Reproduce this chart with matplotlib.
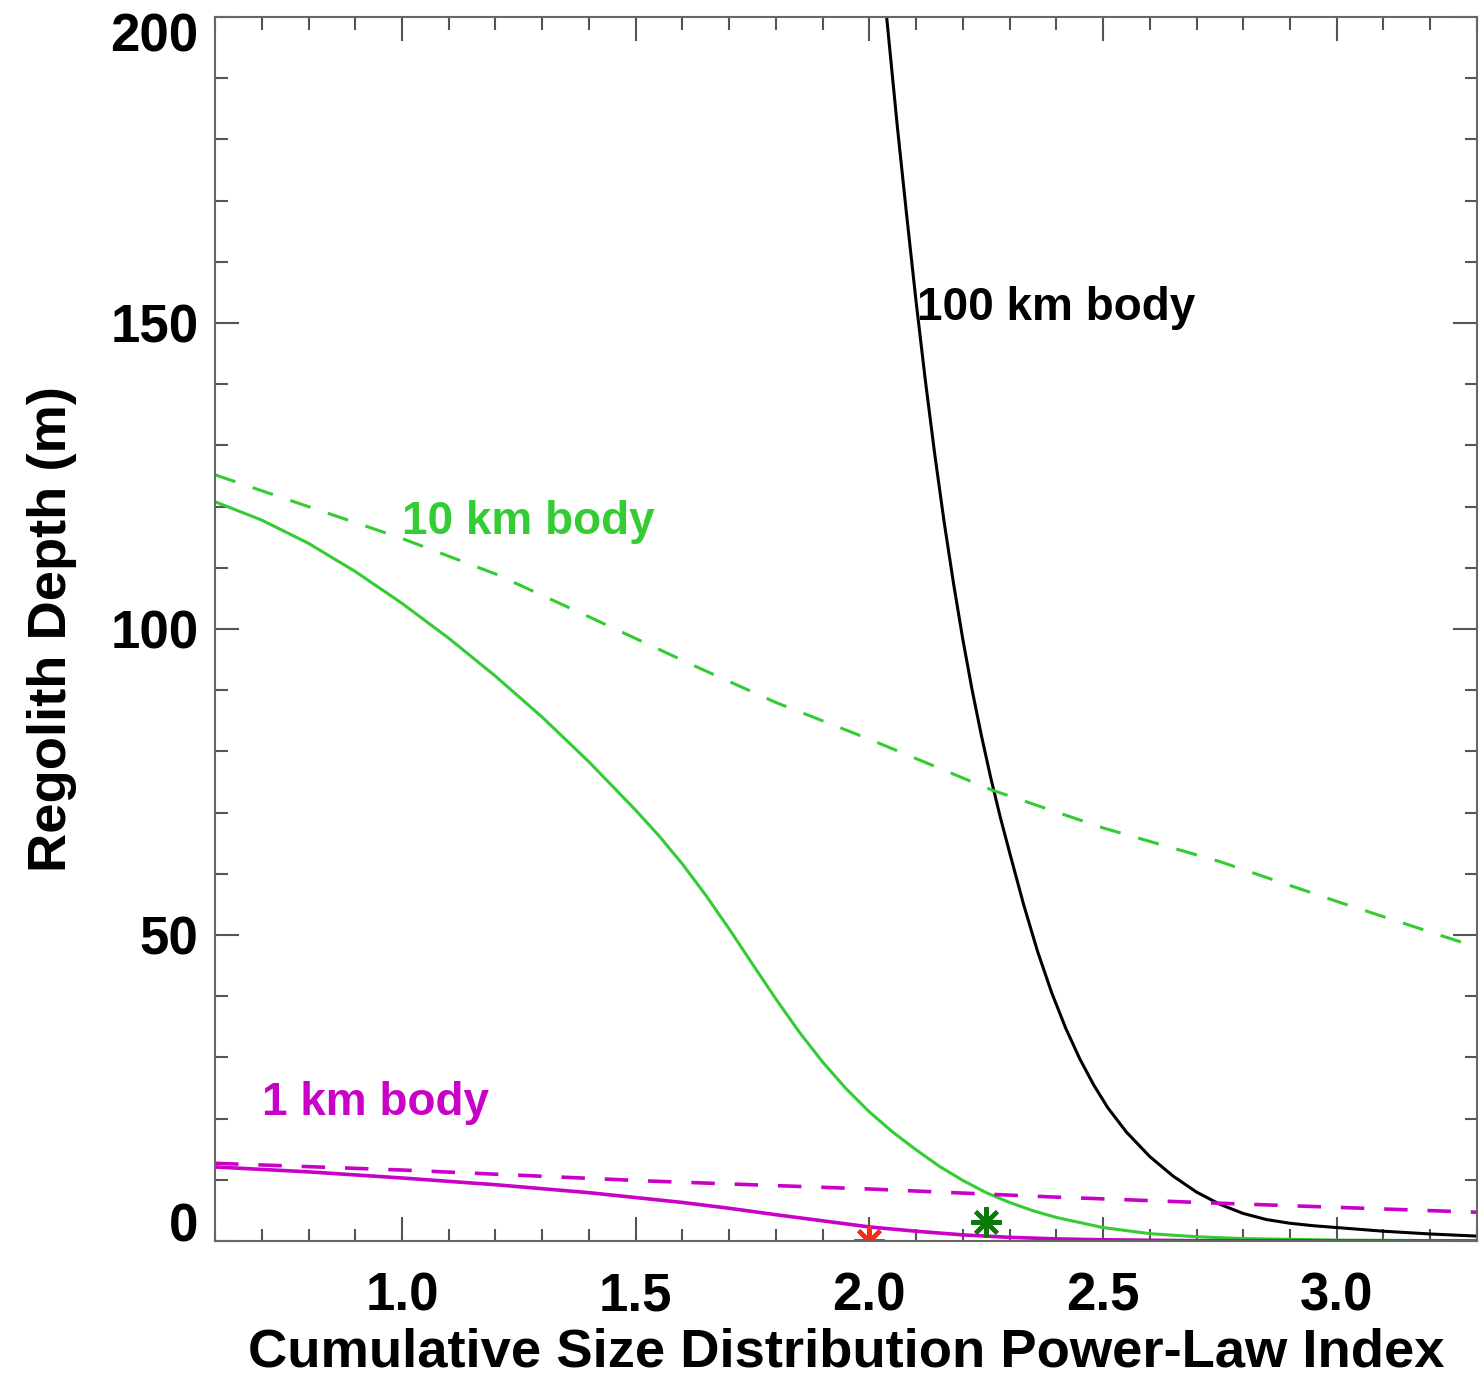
import matplotlib
matplotlib.use("Agg")
import matplotlib.pyplot as plt
from matplotlib.ticker import MultipleLocator
from matplotlib.transforms import ScaledTranslation

plt.rcParams['font.family'] = ['Liberation Sans', 'DejaVu Sans']
plt.rcParams['font.weight'] = 'bold'

# 100 km body (solid black)
x_100km = [2.037, 2.06, 2.08, 2.10, 2.12, 2.14, 2.16, 2.18, 2.20, 2.22, 2.24, 2.26,
           2.28, 2.30, 2.33, 2.36, 2.39, 2.42, 2.45, 2.48, 2.51, 2.55, 2.60, 2.65,
           2.70, 2.75, 2.80, 2.85, 2.90, 2.95, 3.0, 3.1, 3.2, 3.3]
y_100km = [200, 182, 167.5, 153.5, 140.5, 128.5, 117.5, 107.5, 98.3, 90, 82.5, 75.6,
           69.3, 63.5, 55.0, 47.3, 40.6, 34.8, 29.8, 25.5, 21.8, 17.8, 13.8, 10.6,
           8.0, 6.0, 4.5, 3.5, 2.9, 2.5, 2.2, 1.6, 1.15, 0.8]

# 10 km body
x_10km = [0.6, 0.7, 0.8, 0.9, 1.0, 1.1, 1.2, 1.3, 1.4, 1.5, 1.55, 1.6, 1.65, 1.7, 1.75,
          1.8, 1.85, 1.9, 1.95, 2.0, 2.05, 2.1, 2.15, 2.2, 2.25, 2.3, 2.35, 2.4,
          2.5, 2.6, 2.7, 2.8, 3.0, 3.3]
y_10km = [120.8, 117.8, 114.0, 109.4, 104.2, 98.5, 92.3, 85.6, 78.3, 70.4, 66.2, 61.6, 56.5, 51.0, 45.25,
          39.55, 34.15, 29.25, 24.9, 21.1, 17.8, 14.9, 12.2, 9.9, 7.9, 6.3, 4.95, 3.85,
          2.2, 1.2, 0.7, 0.4, 0.15, 0.05]
x_10km_dash = [0.6, 0.8, 1.0, 1.2, 1.4, 1.631, 1.8, 2.0, 2.262, 2.5, 2.75, 3.0, 3.3]
y_10km_dash = [125.2, 120, 114.8, 109, 102, 93.8, 88, 82, 73.7, 67.5, 62, 55.5, 48.0]

# 1 km body
x_1km = [0.6, 0.8, 1.0, 1.2, 1.4, 1.6, 1.7, 1.8, 1.9, 2.0, 2.1, 2.2, 2.3, 2.4, 2.5, 2.7, 3.3]
y_1km = [12.1, 11.3, 10.3, 9.2, 7.9, 6.3, 5.35, 4.3, 3.3, 2.3, 1.6, 1.0, 0.6, 0.35, 0.2, 0.05, 0.0]
x_1km_dash = [0.6, 1.0, 1.53, 2.0, 2.39, 2.74, 3.3]
y_1km_dash = [12.7, 11.6, 9.8, 8.5, 7.2, 6.2, 4.7]

# marked points
star_red = (2.0, 0.0)
star_green = (2.25, 3.1)

GREEN = '#33cc33'
MAGENTA = '#c800c8'

fig = plt.figure(figsize=(14.79, 13.76), dpi=100)
ax = fig.add_axes([0.1454, 0.0981, 0.8532, 0.8895])

ax.plot(x_100km, y_100km, color='black', lw=2.2)
ax.plot(x_10km, y_10km, color=GREEN, lw=2.2)
ax.plot(x_10km_dash, y_10km_dash, color=GREEN, lw=2.2, linestyle=(0, (7, 6)))
ax.plot(x_1km, y_1km, color=MAGENTA, lw=2.6)
ax.plot(x_1km_dash, y_1km_dash, color=MAGENTA, lw=2.6, linestyle=(0, (6.5, 5.5)))

ax.plot(*star_red, marker=(8, 2, 0), ms=22, mew=3, color='#ff2a10')
ax.plot(*star_green, marker=(8, 2, 0), ms=22, mew=3, color='#0a7a0a', clip_on=False)

ax.text(2.102, 152.5, '100 km body', color='black', fontsize=33, fontweight='bold', va='center')
ax.text(1.0, 117.5, '10 km body', color=GREEN, fontsize=33, fontweight='bold', va='center')
ax.text(0.70, 22.5, '1 km body', color=MAGENTA, fontsize=33, fontweight='bold', va='center')

ax.set_xlim(0.6, 3.3)
ax.set_ylim(0, 200)
ax.xaxis.set_minor_locator(MultipleLocator(0.1))
ax.yaxis.set_minor_locator(MultipleLocator(10))
ax.set_xticks([1.0, 1.5, 2.0, 2.5, 3.0])
ax.set_yticks([0, 50, 100, 150, 200])

ax.tick_params(which='both', direction='in', top=True, right=True, color='#555555', width=1.5)
ax.tick_params(which='major', length=17, labelsize=38)
ax.tick_params(which='minor', length=9)
ax.tick_params(axis='x', which='major', pad=22)
ax.tick_params(axis='y', which='major', pad=12)
for lab in ax.get_xticklabels() + ax.get_yticklabels():
    lab.set_fontweight('bold')
ylabs = ax.get_yticklabels()
ylabs[0].set_va('baseline')
ylabs[-1].set_transform(ylabs[-1].get_transform() + ScaledTranslation(0, -0.15, fig.dpi_scale_trans))
for sp in ax.spines.values():
    sp.set_color('#666666')
    sp.set_linewidth(1.5)

ax.set_xlabel('Cumulative Size Distribution Power-Law Index', fontsize=39.2, fontweight='bold', labelpad=4)
ax.set_ylabel('Regolith Depth (m)', fontsize=39.2, fontweight='bold', labelpad=24)

fig.savefig('out.png', dpi=100)
